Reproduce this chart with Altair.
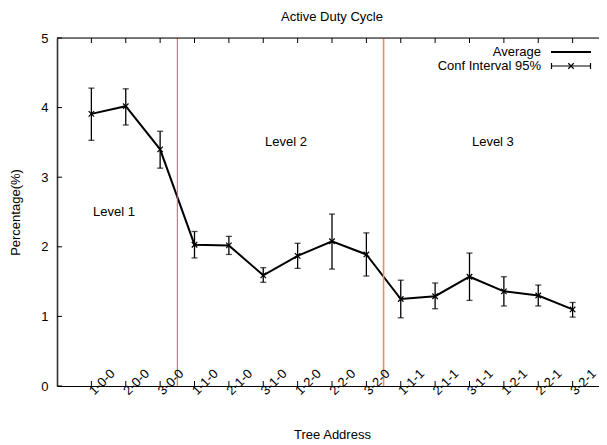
import altair as alt
import pandas as pd

F = "Liberation Sans"

categories = ["1-0-0", "2-0-0", "3-0-0", "1-1-0", "2-1-0", "3-1-0", "1-2-0", "2-2-0",
              "3-2-0", "1-1-1", "2-1-1", "3-1-1", "1-2-1", "2-2-1", "3-2-1"]
avg = [3.91, 4.02, 3.40, 2.03, 2.02, 1.59, 1.87, 2.08, 1.89, 1.25, 1.29, 1.57, 1.36, 1.30, 1.10]
lo = [3.53, 3.75, 3.13, 1.84, 1.89, 1.49, 1.69, 1.68, 1.58, 0.98, 1.11, 1.23, 1.15, 1.15, 0.99]
hi = [4.28, 4.27, 3.66, 2.22, 2.15, 1.70, 2.05, 2.47, 2.20, 1.52, 1.48, 1.91, 1.57, 1.45, 1.20]

level_names = ["Level 1", "Level 2", "Level 3"]
level_x = [0.66, 5.66, 11.68]
level_y = [2.5, 3.5, 3.5]

boundaries = [2.5, 8.5]
boundary_colors = ["#e4572e", "#f58a5e"]
boundary_widths = [1.0, 1.6]

y_ticks = [0, 1, 2, 3, 4, 5]

W, H = 550, 348

df = pd.DataFrame({"idx": list(range(len(categories))), "cat": categories,
                   "avg": avg, "lo": lo, "hi": hi})
df_b = pd.DataFrame({"idx": boundaries, "c": boundary_colors, "w": boundary_widths})
df_l = pd.DataFrame({"lx": level_x, "ly": level_y, "name": level_names})
df_y = pd.DataFrame({"avg": y_ticks})
one = pd.DataFrame({"k": [0]})

xscale = alt.Scale(domain=[-1, 15], nice=False, zero=False)
yscale = alt.Scale(domain=[0, 5], nice=False, zero=False)

X = alt.X("idx:Q", scale=xscale, axis=alt.Axis(
    values=list(range(len(categories))), labels=False,
    ticks=False, tickSize=0, grid=False, domainColor="black", domainWidth=1,
    title=None))
Y = alt.Y("avg:Q", scale=yscale, axis=alt.Axis(
    values=y_ticks, format="d", ticks=False, tickSize=0, labelPadding=9, grid=False,
    domainColor="#333333", domainWidth=1.6, labelFont=F, labelFontSize=13,
    labelColor="black", title="Percentage(%)", titleX=-42, titleY=H / 2,
    titleAngle=270, titleBaseline="middle", titleAlign="center", titleFont=F,
    titleFontSize=13, titleFontWeight="normal", titleColor="black"))

base = alt.Chart(df)

line = base.mark_line(color="black", strokeWidth=2).encode(x=X, y=Y)

bounds = alt.Chart(df_b).mark_rule().encode(
    x="idx:Q",
    color=alt.Color("c:N", scale=None),
    strokeWidth=alt.StrokeWidth("w:Q", scale=None),
    y=alt.value(0), y2=alt.value(H))

err = base.mark_rule(color="black", strokeWidth=1.3).encode(x="idx:Q", y="lo:Q", y2="hi:Q")
cap_lo = base.mark_tick(orient="horizontal", size=6, thickness=1.3, color="black").encode(
    x="idx:Q", y="lo:Q")
cap_hi = base.mark_tick(orient="horizontal", size=6, thickness=1.3, color="black").encode(
    x="idx:Q", y="hi:Q")
pts = base.mark_point(shape="M-1,-1L1,1M-1,1L1,-1", size=30, color="black",
                      strokeWidth=1.2, filled=False, opacity=1).encode(x="idx:Q", y="avg:Q")

xlabels = base.mark_text(font=F, fontSize=13, color="black", angle=315,
                         align="left", baseline="middle").encode(
    x="idx:Q", y=alt.value(H + 7), text="cat:N")

xtitle = alt.Chart(one).mark_text(font=F, fontSize=13, color="black",
                                  align="center", baseline="middle").encode(
    x=alt.value(W / 2 + 0.5), y=alt.value(H + 49), text=alt.value("Tree Address"))

xt_bot = base.mark_rule(color="black", strokeWidth=1).encode(
    x="idx:Q", y=alt.value(H), y2=alt.value(H - 5))
xt_top = base.mark_rule(color="black", strokeWidth=1).encode(
    x="idx:Q", y=alt.value(0), y2=alt.value(5))
yt_left = alt.Chart(df_y).mark_rule(color="black", strokeWidth=1).encode(
    y="avg:Q", x=alt.value(0), x2=alt.value(5))
yt_right = alt.Chart(df_y).mark_rule(color="black", strokeWidth=1).encode(
    y="avg:Q", x=alt.value(W - 5), x2=alt.value(W))
top_line = alt.Chart(one).mark_rule(color="black", strokeWidth=1).encode(
    x=alt.value(0), x2=alt.value(W), y=alt.value(0))

levels = alt.Chart(df_l).mark_text(font=F, fontSize=13, color="black",
                                   align="center", baseline="middle").encode(
    x="lx:Q", y="ly:Q", text="name:N")

# legend (gnuplot style, key sample on the right)
lg_t1 = alt.Chart(one).mark_text(font=F, fontSize=13, align="right", baseline="middle",
                                 color="black").encode(
    x=alt.value(484), y=alt.value(14), text=alt.value("Average"))
lg_t2 = alt.Chart(one).mark_text(font=F, fontSize=13, align="right", baseline="middle",
                                 color="black").encode(
    x=alt.value(484), y=alt.value(28), text=alt.value("Conf Interval 95%"))
lg_l1 = alt.Chart(one).mark_rule(color="black", strokeWidth=2).encode(
    x=alt.value(494), x2=alt.value(534), y=alt.value(14))
lg_l2 = alt.Chart(one).mark_rule(color="black", strokeWidth=1.2).encode(
    x=alt.value(494), x2=alt.value(534), y=alt.value(28))
lg_c1 = alt.Chart(one).mark_rule(color="black", strokeWidth=1.2).encode(
    x=alt.value(494.5), y=alt.value(25), y2=alt.value(31))
lg_c2 = alt.Chart(one).mark_rule(color="black", strokeWidth=1.2).encode(
    x=alt.value(533.5), y=alt.value(25), y2=alt.value(31))
lg_p = alt.Chart(one).mark_point(shape="M-1,-1L1,1M-1,1L1,-1", size=30, color="black",
                                 strokeWidth=1.2, filled=False, opacity=1).encode(
    x=alt.value(514), y=alt.value(28))

chart = alt.layer(
    line, bounds, err, cap_lo, cap_hi, pts, xlabels, xtitle, xt_bot, xt_top, yt_left,
    yt_right, top_line, levels, lg_t1, lg_t2, lg_l1, lg_l2, lg_c1, lg_c2, lg_p
).properties(
    width=W, height=H,
    title=alt.Title("Active Duty Cycle", font=F, fontSize=13, fontWeight="normal",
                    color="black", anchor="middle", offset=8),
    padding={"left": 49, "top": 30, "right": -8, "bottom": 56},
    autosize=alt.AutoSizeParams(type="none"),
).configure_view(stroke=None).configure(background="white")

chart.save("out.html", embed_options={"renderer": "svg", "actions": False})
